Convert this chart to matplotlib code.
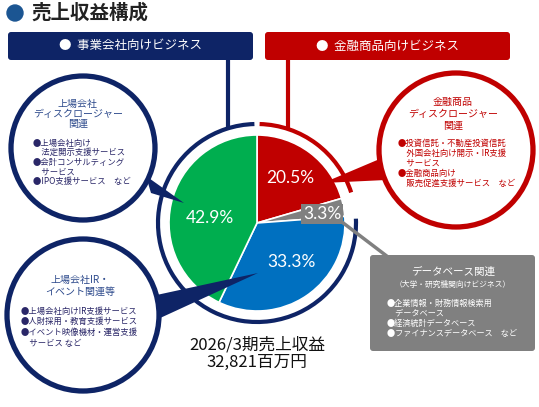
import matplotlib
matplotlib.use("Agg")
import matplotlib.pyplot as plt
from matplotlib.patches import Circle, Arc, FancyBboxPatch, Polygon

plt.rcParams['font.family'] = ['Noto Sans CJK JP', 'DejaVu Sans']

# data
segments = ["金融商品", "データベース", "上場会社IR・イベント", "上場会社ディスクロージャー"]
shares = [20.5, 3.3, 33.3, 42.9]
share_labels = ["20.5%", "3.3%", "33.3%", "42.9%"]
seg_colors = ["#C00000", "#808080", "#0070C0", "#00AE4F"]

title = "売上収益構成"
header_left = "事業会社向けビジネス"
header_right = "金融商品向けビジネス"
total_lines = ["2026/3期売上収益", "32,821百万円"]

disc_title = ["上場会社", "ディスクロージャー", "関連"]
disc_items = ["●上場会社向け", "　法定開示支援サービス", "●会計コンサルティング", "　サービス", "●IPO支援サービス　など"]
ir_title = ["上場会社IR・", "イベント関連等"]
ir_items = ["●上場会社向けIR支援サービス", "●人財採用・教育支援サービス", "●イベント映像機材・運営支援", "　サービス など"]
fin_title = ["金融商品", "ディスクロージャー", "関連"]
fin_items = ["●投資信託・不動産投資信託", "　外国会社向け開示・IR支援", "　サービス", "●金融商品向け", "　販売促進支援サービス　など"]
db_title = "データベース関連"
db_sub = "（大学・研究機関向けビジネス）"
db_items = ["●企業情報・財務情報検索用", "　データベース", "●経済統計データベース", "●ファイナンスデータベース　など"]

NAVY = "#0E2466"
RED = "#C00000"
GRAY = "#808080"
W, H = 539, 407


def Y(py):
    return H - py


fig = plt.figure(figsize=(W / 100, H / 100), dpi=100)
ax = fig.add_axes([0, 0, 1, 1])
ax.set_xlim(0, W)
ax.set_ylim(0, H)
ax.set_aspect('equal')
ax.axis('off')

# title
ax.add_patch(Circle((15, Y(13)), 8, color="#1B5592"))
ax.text(31, Y(13), title, fontsize=14, color="#222222", va='center', ha='left', fontweight='bold')

# header boxes
for x0, x1, col, txt in [(8, 253, NAVY, header_left), (265, 510, RED, header_right)]:
    ax.add_patch(FancyBboxPatch((x0 + 3, Y(60) + 3), x1 - x0 - 6, 22,
                                boxstyle="round,pad=3", fc=col, ec='none'))
    ax.text((x0 + x1) / 2, Y(46), "●  " + txt, color='white', fontsize=9,
            ha='center', va='center')

# connectors from headers
ax.plot([228, 228], [Y(58), Y(128)], color=NAVY, lw=3, solid_capstyle='butt')
ax.plot([288, 288], [Y(58), Y(128)], color=RED, lw=3, solid_capstyle='butt')

# pie
cx, cy, r = 257, Y(223), 88
wedges, _ = ax.pie(shares, colors=seg_colors, startangle=90, counterclock=False,
                   center=(cx, cy), radius=r,
                   wedgeprops=dict(edgecolor='white', linewidth=1.2))
ax.set_xlim(0, W)
ax.set_ylim(0, H)

# outer rings
ax.add_patch(Arc((cx, cy), 198, 198, theta1=91.5, theta2=362.5, color=NAVY, lw=3))
ax.add_patch(Arc((cx, cy), 198, 198, theta1=18, theta2=88.5, color=RED, lw=3))

# share labels
pct_font = dict(family=['Lato', 'DejaVu Sans'], fontsize=12.5)
label_pos = [(290, 178), (322, 214), (292, 262), (210, 218)]
for (px, py), lab in zip(label_pos, share_labels):
    if lab == "3.3%":
        ax.text(px, Y(py), lab, color='white', ha='center', va='center',
                bbox=dict(boxstyle='square,pad=0.1', fc=GRAY, ec='none'), **pct_font)
    else:
        ax.text(px, Y(py), lab, color='white', ha='center', va='center', **pct_font)

# callout pointers
ax.add_patch(Polygon([(146, Y(176)), (151, Y(193)), (184, Y(203))], closed=True, fc=NAVY, ec='none'))
ax.add_patch(Polygon([(152, Y(296)), (158, Y(319)), (258, Y(273))], closed=True, fc=NAVY, ec='none'))
ax.add_patch(Polygon([(382, Y(158)), (386, Y(180)), (323, Y(183))], closed=True, fc=RED, ec='none'))
ax.plot([338, 388], [Y(219), Y(257)], color=GRAY, lw=2.5)

# callout circles
ax.add_patch(Circle((83, Y(148)), 72, fc='white', ec=NAVY, lw=3.8))
ax.add_patch(Circle((83, Y(315)), 76, fc='white', ec=NAVY, lw=3.8))
ax.add_patch(Circle((456, Y(150)), 77, fc='white', ec=RED, lw=3.8))

# database box
ax.add_patch(FancyBboxPatch((373, Y(351) + 3), 159, 90, boxstyle="round,pad=3", fc=GRAY, ec='none'))

TCOL = "#2D4A8C"
BCOL = "#2A2768"
for i, t in enumerate(disc_title):
    ax.text(78, Y(104 + i * 10), t, color=TCOL, fontsize=7.2, ha='center', va='center')
for i, t in enumerate(disc_items):
    ax.text(33, Y(143 + i * 9.6), t, color=BCOL, fontsize=6.0, ha='left', va='center')

for i, t in enumerate(ir_title):
    ax.text(80, Y(280 + i * 12), t, color=TCOL, fontsize=7.2, ha='center', va='center')
for i, t in enumerate(ir_items):
    ax.text(21, Y(311 + i * 10.7), t, color=BCOL, fontsize=6.0, ha='left', va='center')

for i, t in enumerate(fin_title):
    ax.text(453, Y(102 + i * 12), t, color=RED, fontsize=7.2, ha='center', va='center')
for i, t in enumerate(fin_items):
    ax.text(398, Y(143 + i * 10), t, color=RED, fontsize=6.0, ha='left', va='center')

ax.text(453, Y(272), db_title, color='white', fontsize=7.6, ha='center', va='center')
ax.text(453, Y(285), db_sub, color='white', fontsize=5.6, ha='center', va='center')
for i, t in enumerate(db_items):
    ax.text(387, Y(303 + i * 10.3), t, color='white', fontsize=5.9, ha='left', va='center')

# total revenue
for i, t in enumerate(total_lines):
    ax.text(257, Y(345 + i * 17), t, color='#111111', fontsize=12, ha='center', va='center')

fig.savefig("out.png", dpi=100)
